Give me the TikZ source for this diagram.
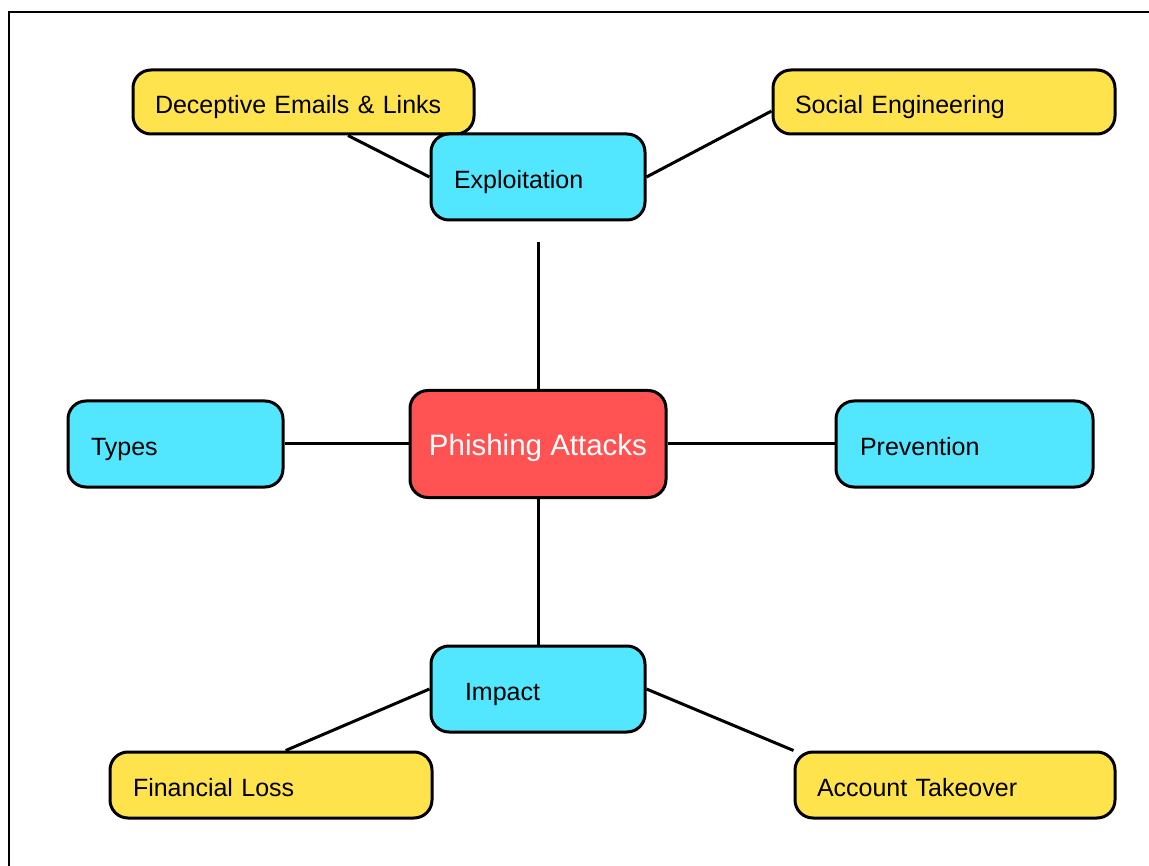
\documentclass[tikz,border=0pt]{standalone}
\usepackage{fontspec}
\setmainfont{Liberation Sans}
\definecolor{ylw}{RGB}{255,227,77}
\definecolor{cyn}{RGB}{82,230,255}
\definecolor{rd}{RGB}{255,82,82}
\begin{document}
\begin{tikzpicture}[x=1pt,y=-1pt,
  box/.style={draw=black, line width=3pt, rounded corners=18pt, rectangle, align=left,
     font=\fontsize{25}{30}\selectfont, inner ysep=0pt, text height=23pt, text depth=0pt},
  leaf/.style={box, fill=ylw},
  topic/.style={box, fill=cyn},
  link/.style={line width=3pt, draw=black}]
\useasboundingbox (0,0) rectangle (1149,866);
\fill[white] (0,0) rectangle (1149,866);
\draw[line width=1.5pt] (9,866) -- (9,12) -- (1149,12);

\node[leaf, minimum height=64pt, text width=297pt, inner xsep=22pt] (dec) at (303.5,102) {Deceptive Emails \& Links};
\node[leaf, minimum height=64pt, text width=298pt, inner xsep=22pt] (soc) at (944,102) {Social Engineering};
\node[topic, minimum height=86pt, text width=168pt, inner xsep=23pt] (expl) at (538,177) {Exploitation};
\node[topic, minimum height=86pt, text width=169pt, inner xsep=23pt] (types) at (175.5,444) {Types};
\node[topic, minimum height=86pt, text width=209pt, inner xsep=24pt] (prev) at (964.5,444) {Prevention};
\node[box, fill=rd, text=white, align=center, minimum width=256pt, minimum height=107pt, inner xsep=0pt,
   font=\fontsize{29.5}{34}\selectfont] (main) at (538,444) {Phishing Attacks};
\node[topic, minimum height=86pt, text width=146pt, inner xsep=34pt] (imp) at (538,689) {Impact};
\node[leaf, minimum height=66pt, text width=276pt, inner xsep=23pt] (fin) at (271,785) {Financial Loss};
\node[leaf, minimum height=66pt, text width=276pt, inner xsep=22pt] (acct) at (955,785) {Account Takeover};

\draw[link] (dec.-37.6) -- (expl.west);
\draw[link] (expl.east) -- (soc.183.7);
\draw[link] ([yshift=-21pt]expl.south) -- (main.north);
\draw[link] (types.east) -- (main.west);
\draw[link] (main.east) -- (prev.west);
\draw[link] (main.south) -- (imp.north);
\draw[link] (imp.west) -- (fin.67);
\draw[link] (imp.east) -- (acct.north west);
\end{tikzpicture}
\end{document}
